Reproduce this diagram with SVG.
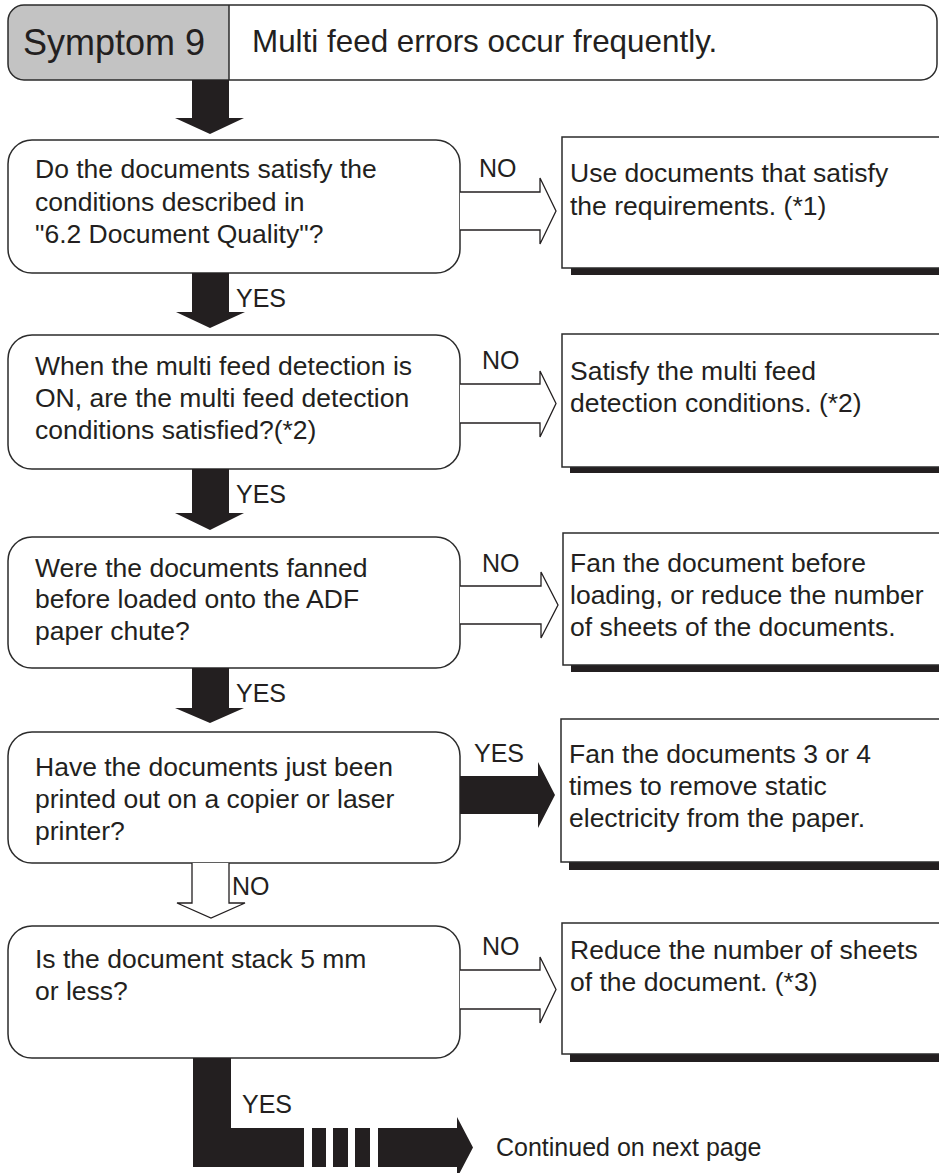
<svg xmlns="http://www.w3.org/2000/svg" width="939" height="1173" viewBox="0 0 939 1173">
<style>
  .box { fill: #ffffff; stroke: #2b2b2b; stroke-width: 1.5; }
  .hdr { fill: none; stroke: #2b2b2b; stroke-width: 1.5; }
  .gray { fill: #c3c3c3; }
  .shadow { fill: #231f20; }
  .solid { fill: #231f20; }
  .hollow { fill: #ffffff; stroke: #231f20; stroke-width: 1.3; stroke-linejoin: miter; }
  text { font-family: "Liberation Sans", Arial, Helvetica, sans-serif; fill: #231f20; }
  .t { font-size: 26.5px; }
  .lbl { font-size: 25px; }
  .h1 { font-size: 36px; }
  .h2 { font-size: 31.4px; }
</style>
<rect width="939" height="1173" fill="#ffffff"/>

<g id="header">
  <path class="gray" d="M24,5 H229 V80 H24 A16,16 0 0 1 8,64 V21 A16,16 0 0 1 24,5 Z"/>
  <rect class="hdr" x="8" y="5" width="929" height="75" rx="16" ry="16"/>
  <line x1="229" y1="5" x2="229" y2="80" stroke="#2b2b2b" stroke-width="1.5"/>
  <text class="h1" x="23" y="55">Symptom 9</text>
  <text class="h2" x="252" y="52">Multi feed errors occur frequently.</text>
</g>

<g id="q1">
  <rect class="box" x="8" y="140" width="452" height="133" rx="24" ry="24"/>
  <text class="t" x="35" y="178">Do the documents satisfy the</text>
  <text class="t" x="35" y="211">conditions described in</text>
  <text class="t" x="35" y="243">"6.2 Document Quality"?</text>
</g>
<g id="r1">
  <rect class="shadow" x="571" y="144" width="400" height="131"/>
  <rect class="box" x="562" y="137" width="400" height="131"/>
  <text class="t" x="570" y="182">Use documents that satisfy</text>
  <text class="t" x="570" y="215">the requirements. (*1)</text>
</g>

<g id="q2">
  <rect class="box" x="8" y="335" width="452" height="134" rx="24" ry="24"/>
  <text class="t" x="35" y="375">When the multi feed detection is</text>
  <text class="t" x="35" y="407">ON, are the multi feed detection</text>
  <text class="t" x="35" y="439">conditions satisfied?(*2)</text>
</g>
<g id="r2">
  <rect class="shadow" x="570" y="340" width="400" height="133"/>
  <rect class="box" x="562" y="334" width="400" height="133"/>
  <text class="t" x="570" y="380">Satisfy the multi feed</text>
  <text class="t" x="570" y="412">detection conditions. (*2)</text>
</g>

<g id="q3">
  <rect class="box" x="8" y="537" width="452" height="131" rx="24" ry="24"/>
  <text class="t" x="35" y="577">Were the documents fanned</text>
  <text class="t" x="35" y="608">before loaded onto the ADF</text>
  <text class="t" x="35" y="640">paper chute?</text>
</g>
<g id="r3">
  <rect class="shadow" x="571" y="540" width="400" height="132"/>
  <rect class="box" x="563" y="533" width="400" height="132"/>
  <text class="t" x="570" y="572">Fan the document before</text>
  <text class="t" x="570" y="604">loading, or reduce the number</text>
  <text class="t" x="570" y="636">of sheets of the documents.</text>
</g>

<g id="q4">
  <rect class="box" x="8" y="732" width="452" height="131" rx="24" ry="24"/>
  <text class="t" x="35" y="776">Have the documents just been</text>
  <text class="t" x="35" y="808">printed out on a copier or laser</text>
  <text class="t" x="35" y="840">printer?</text>
</g>
<g id="r4">
  <rect class="shadow" x="569" y="727" width="400" height="143"/>
  <rect class="box" x="561" y="719" width="400" height="143"/>
  <text class="t" x="569" y="763">Fan the documents 3 or 4</text>
  <text class="t" x="569" y="795">times to remove static</text>
  <text class="t" x="569" y="827">electricity from the paper.</text>
</g>

<g id="q5">
  <rect class="box" x="8" y="926" width="452" height="132" rx="24" ry="24"/>
  <text class="t" x="35" y="968">Is the document stack 5 mm</text>
  <text class="t" x="35" y="1000">or less?</text>
</g>
<g id="r5">
  <rect class="shadow" x="570" y="930" width="400" height="132"/>
  <rect class="box" x="562" y="923" width="400" height="131"/>
  <text class="t" x="570" y="959">Reduce the number of sheets</text>
  <text class="t" x="570" y="991">of the document. (*3)</text>
</g>

<g id="continued">
  <text class="lbl" x="496" y="1156">Continued on next page</text>
</g>

<g id="connectors">
  <!-- vertical solid arrows -->
  <polygon class="solid" points="192,80 229,80 229,118 244,118 210,134 175,118 192,118"/>
  <polygon class="solid" points="192,273 229,273 229,312 245,312 210,328 176,312 192,312"/>
  <polygon class="solid" points="192,469 229,469 229,513 244,513 210,530 175,513 192,513"/>
  <polygon class="solid" points="192,668 229,668 229,708 244,708 210,723 175,708 192,708"/>
  <text class="lbl" x="236" y="307">YES</text>
  <text class="lbl" x="236" y="503">YES</text>
  <text class="lbl" x="236" y="702">YES</text>

  <!-- vertical hollow NO arrow -->
  <path class="hollow" d="M192,863 V903 H177 L211,918 L245,903 H229 V863"/>
  <text class="lbl" x="232" y="895">NO</text>

  <!-- horizontal hollow NO arrows -->
  <path class="hollow" d="M460,192 H540 V178 L556,211 L540,244 V230 H460"/>
  <text class="lbl" x="479" y="177">NO</text>
  <path class="hollow" d="M460,384 H540 V371 L556,403.5 L540,437 V423 H460"/>
  <text class="lbl" x="482" y="369">NO</text>
  <path class="hollow" d="M460,586 H541 V572 L558,605 L541,638 V624 H460"/>
  <text class="lbl" x="482" y="572">NO</text>
  <path class="hollow" d="M460,970 H540 V957 L556,989.5 L540,1023 V1009 H460"/>
  <text class="lbl" x="482" y="955">NO</text>

  <!-- horizontal solid YES arrow -->
  <polygon class="solid" points="460,776 538,776 538,762 555,795 538,828 538,814 460,814"/>
  <text class="lbl" x="474" y="762">YES</text>

  <!-- bottom L arrow, continued -->
  <path class="solid" d="M193,1058 H231 V1128 H304 V1167 H193 Z"/>
  <rect class="solid" x="312" y="1128" width="14" height="39"/>
  <rect class="solid" x="333" y="1128" width="15" height="39"/>
  <rect class="solid" x="355" y="1128" width="15" height="39"/>
  <polygon class="solid" points="378,1128 457,1128 457,1117 473,1147.5 457,1178 457,1167 378,1167"/>
  <text class="lbl" x="242" y="1113">YES</text>
</g>
</svg>
